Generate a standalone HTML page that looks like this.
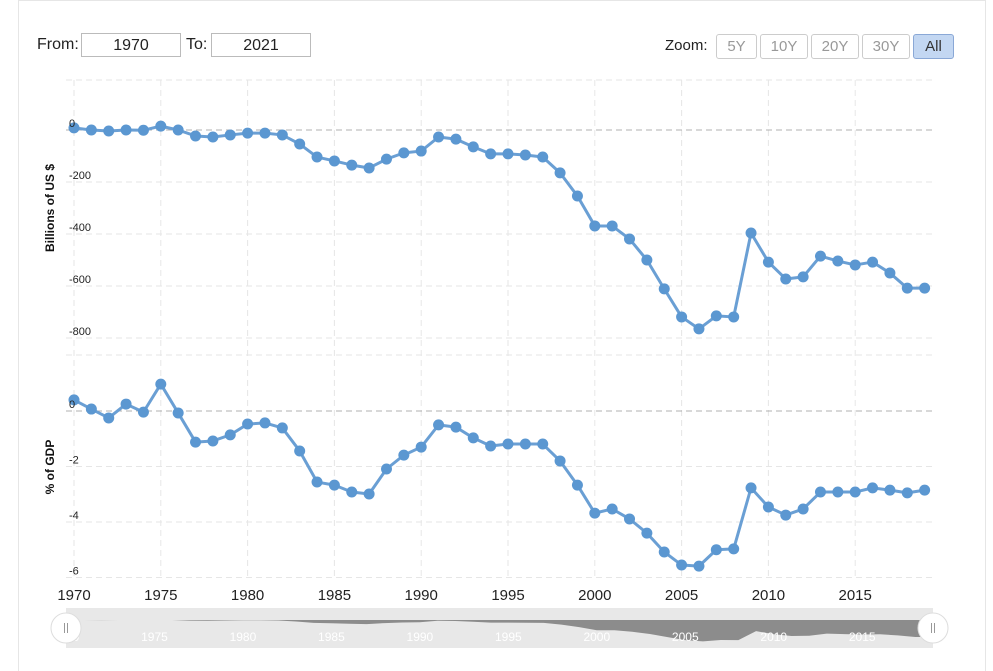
<!DOCTYPE html>
<html><head><meta charset="utf-8"><style>
body{margin:0;background:#fff;font-family:"Liberation Sans",sans-serif;}
#wrap{position:relative;width:993px;height:671px;overflow:hidden;}
.frame{position:absolute;left:18px;top:0;width:968px;height:671px;border-left:1px solid #e6e6e6;border-right:1px solid #e6e6e6;border-top:1px solid #e6e6e6;box-sizing:border-box;}
.lbl{position:absolute;font-size:16px;color:#222;}
.inp{position:absolute;height:24px;border:1px solid #bbb;font-size:16px;text-align:center;line-height:24px;color:#222;box-sizing:border-box;}
.zb{position:absolute;top:34px;height:25px;border:1px solid #ccc;border-radius:3px;font-size:15px;color:#999;text-align:center;line-height:23px;box-sizing:border-box;background:#fff;}
</style></head><body>
<div id="wrap">
<div class="frame"></div>
<div class="lbl" style="left:37px;top:36px">From:</div>
<div class="inp" style="left:81px;top:33px;width:100px">1970</div>
<div class="lbl" style="left:186px;top:36px">To:</div>
<div class="inp" style="left:211px;top:33px;width:100px">2021</div>
<div class="lbl" style="left:665px;top:37px;font-size:15px">Zoom:</div>
<div class="zb" style="left:716px;width:41px">5Y</div>
<div class="zb" style="left:760px;width:48px">10Y</div>
<div class="zb" style="left:811px;width:48px">20Y</div>
<div class="zb" style="left:862px;width:48px">30Y</div>
<div class="zb" style="left:913px;width:41px;background:#c3d7f2;border-color:#8aa8d6;color:#333">All</div>
<svg id="svg" width="993" height="671" style="position:absolute;left:0;top:0"></svg>
</div>
<script>
const years=[1970,1971,1972,1973,1974,1975,1976,1977,1978,1979,1980,1981,1982,1983,1984,1985,1986,1987,1988,1989,1990,1991,1992,1993,1994,1995,1996,1997,1998,1999,2000,2001,2002,2003,2004,2005,2006,2007,2008,2009,2010,2011,2012,2013,2014,2015,2016,2017,2018,2019];
const billions=[8,0,-4,0,-1,15,0,-23,-27,-19,-12,-12,-19,-54,-104,-119,-135,-146,-112,-88,-81,-27,-35,-65,-92,-92,-96,-104,-165,-254,-369,-369,-419,-500,-611,-719,-765,-715,-719,-396,-508,-573,-565,-485,-504,-519,-508,-550,-608,-608];
const pctGdp=[0.4,0.07,-0.25,0.25,-0.04,0.97,-0.07,-1.12,-1.08,-0.86,-0.47,-0.43,-0.61,-1.44,-2.56,-2.67,-2.92,-2.99,-2.09,-1.59,-1.3,-0.5,-0.58,-0.97,-1.26,-1.19,-1.19,-1.19,-1.8,-2.67,-3.68,-3.53,-3.89,-4.4,-5.08,-5.55,-5.59,-5.0,-4.97,-2.77,-3.46,-3.75,-3.53,-2.92,-2.92,-2.92,-2.77,-2.85,-2.95,-2.85];
const topTicks=[0,-200,-400,-600,-800];
const botTicks=[0,-2,-4,-6];
const xTicks=[1970,1975,1980,1985,1990,1995,2000,2005,2010,2015];

const NS="http://www.w3.org/2000/svg";
const svg=document.getElementById('svg');
function mk(t,a,parent){const e=document.createElementNS(NS,t);for(const k in a)e.setAttribute(k,a[k]);(parent||svg).appendChild(e);return e;}
const X=y=>74+(y-1970)*17.36;
const Yt=v=>130-v*0.26;
const Yb=v=>411-v*27.75;
const L=66,R=933;

for(const t of xTicks){
  const g=mk('line',{x1:X(t),x2:X(t),y1:80,y2:580,stroke:'#e6e6e6','stroke-dasharray':'6,4'});
  
  const tx=mk('text',{x:X(t),y:600,'text-anchor':'middle','font-size':15,fill:'#222','font-family':'Liberation Sans'});
  tx.textContent=t;
}
mk('line',{x1:L,x2:R,y1:80,y2:80,stroke:'#e6e6e6','stroke-dasharray':'6,4'});
for(const t of topTicks){
  const l=mk('line',{x1:L,x2:R,y1:Yt(t),y2:Yt(t),stroke:t===0?'#b0b0b0':'#e6e6e6','stroke-dasharray':'6,4'});
  
}
mk('line',{x1:L,x2:R,y1:355,y2:355,stroke:'#e6e6e6','stroke-dasharray':'6,4'});
for(const t of botTicks){
  const l=mk('line',{x1:L,x2:R,y1:Yb(t),y2:Yb(t),stroke:t===0?'#b0b0b0':'#e6e6e6','stroke-dasharray':'6,4'});
  
}
const t1=mk('text',{x:0,y:0,transform:'translate(54,208) rotate(-90)','text-anchor':'middle','font-size':12,'font-weight':'bold',fill:'#111','font-family':'Liberation Sans'});
t1.textContent='Billions of US $';
const t2=mk('text',{x:0,y:0,transform:'translate(54,467) rotate(-90)','text-anchor':'middle','font-size':12,'font-weight':'bold',fill:'#111','font-family':'Liberation Sans'});
t2.textContent='% of GDP';

function series(vals,Y,name){
  const p=mk('polyline',{points:vals.map((v,i)=>X(years[i])+','+Y(v)).join(' '),fill:'none',stroke:'#6a9fd4','stroke-width':3,'stroke-linejoin':'round'});
  
  vals.forEach((v,i)=>{
    const c=mk('circle',{cx:X(years[i]),cy:Y(v),r:5.5,fill:'#5b97d1'});
    
  });
}
series(billions,Yt,'billions');
series(pctGdp,Yb,'pct-gdp');

for(const t of topTicks){
  const tx=mk('text',{x:69,y:Yt(t)-3,'font-size':11,fill:'#222','font-family':'Liberation Sans'});
  tx.textContent=t;
}
for(const t of botTicks){
  const tx=mk('text',{x:69,y:Yb(t)-3,'font-size':11,fill:'#222','font-family':'Liberation Sans'});
  tx.textContent=t;
}

const nav=mk('rect',{x:L,y:608,width:R-L,height:40,fill:'#e8e8e8'});

const NX=y=>L+(y-1970)*(R-L)/49;
const d='M'+NX(1970)+',620 '+billions.map((v,i)=>'L'+NX(years[i])+','+(620+Math.max(0,-v)*0.028).toFixed(1)).join(' ')+' L'+NX(2019)+',620 Z';
const na=mk('path',{d:d,fill:'#8c8c8c'});

for(const t of xTicks){
  const tx=mk('text',{x:NX(t),y:641,'text-anchor':'middle','font-size':12,fill:'#fff','font-family':'Liberation Sans'});
  tx.textContent=t;
}
for(const hx of [L,R]){
  const h=mk('circle',{cx:hx,cy:628,r:15,fill:'#fff',stroke:'#ddd'});
  
  mk('line',{x1:hx-1.5,x2:hx-1.5,y1:623,y2:633,stroke:'#999'});
  mk('line',{x1:hx+1.5,x2:hx+1.5,y1:623,y2:633,stroke:'#999'});
}
</script>
</body></html>
